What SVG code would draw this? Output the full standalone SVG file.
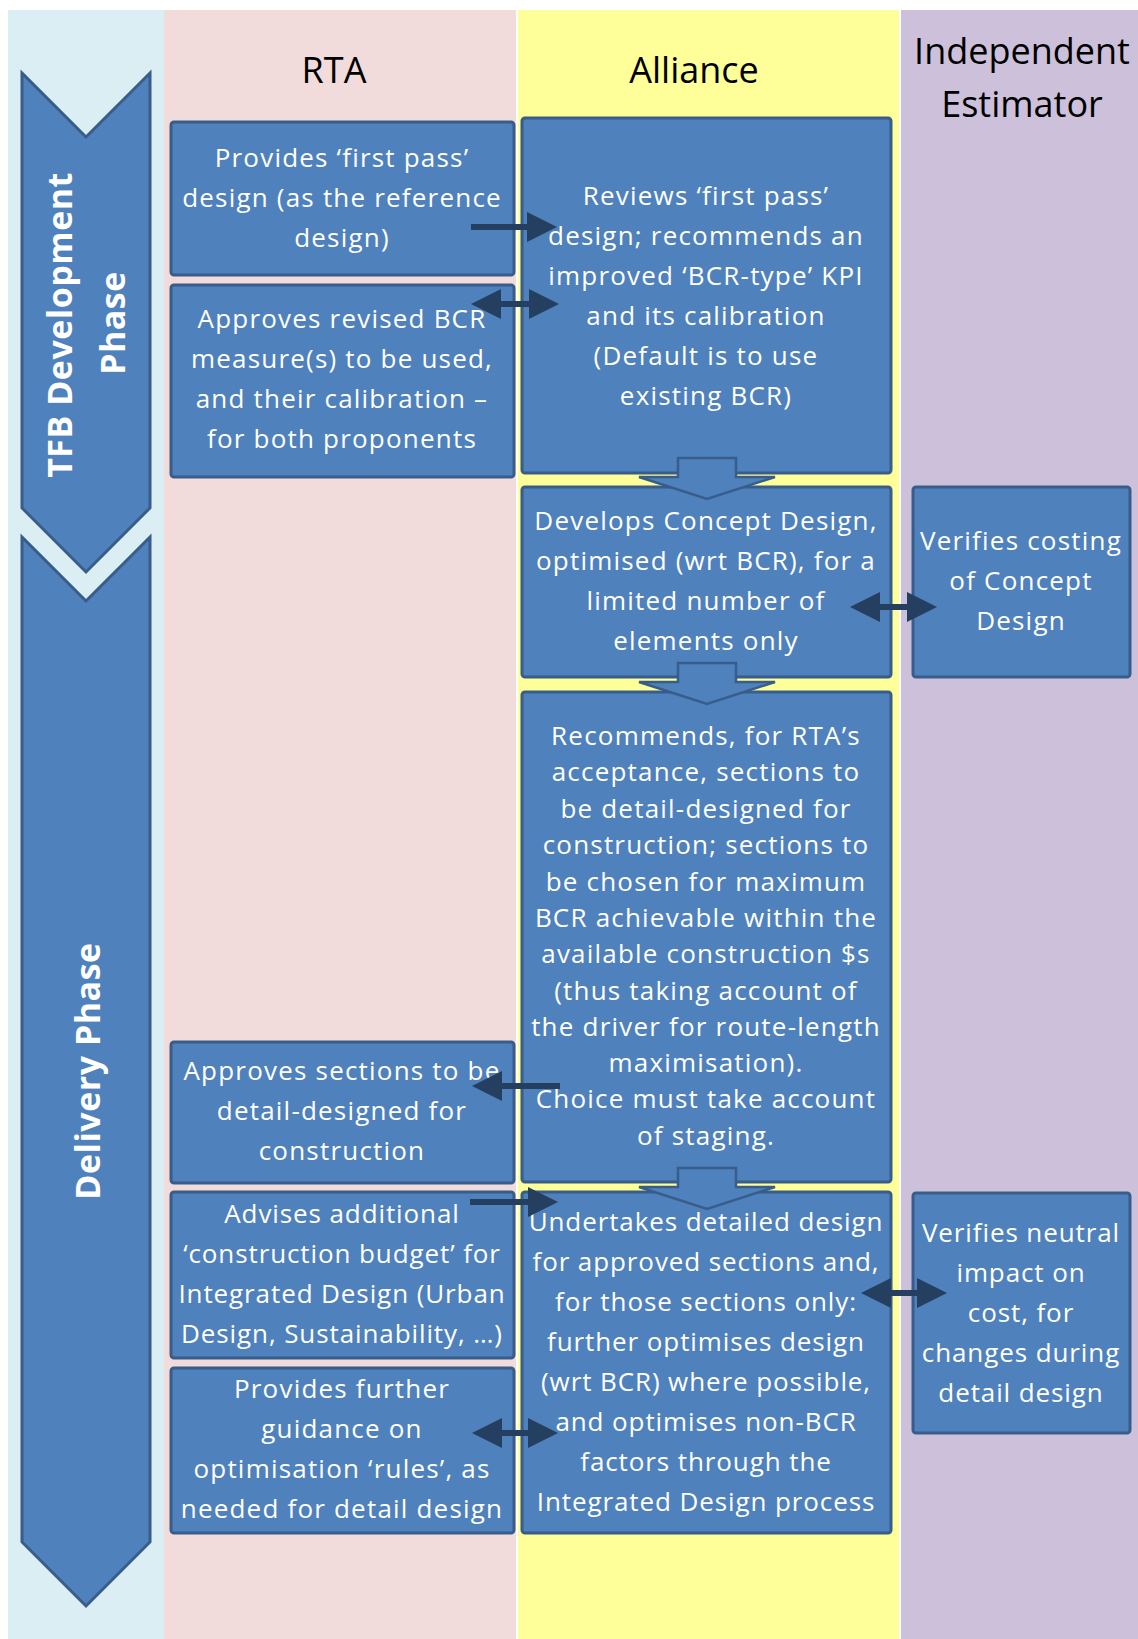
<svg xmlns="http://www.w3.org/2000/svg" xmlns:xlink="http://www.w3.org/1999/xlink" width="1138" height="1639" viewBox="0 0 1138 1639">
<style>
.lane-b{fill:#DAEEF3}.lane-p{fill:#F2DCDB}.lane-y{fill:#FFFF99}.lane-v{fill:#CCC0DA}
.box{fill:#4F81BD;stroke:#385D8A;stroke-width:3}
.chev{fill:#4F81BD;stroke:#385D8A;stroke-width:3;stroke-linejoin:miter}
.hdr{font-family:"Open Sans","Liberation Sans",sans-serif;font-size:36px;fill:#000;text-anchor:middle}
.t{font-family:"Open Sans","Liberation Sans",sans-serif;font-size:26px;fill:#fff;text-anchor:middle;letter-spacing:1.2px}
.tt{font-family:"Open Sans","Liberation Sans",sans-serif;font-size:26px;fill:#fff;text-anchor:middle;letter-spacing:0.9px}
.ph{font-family:"Open Sans","Liberation Sans",sans-serif;font-size:34px;font-weight:bold;fill:#fff;text-anchor:middle;letter-spacing:0.5px}
.ln{stroke:#243F60;stroke-width:6;fill:none}
.blk{fill:#4F81BD;stroke:#385D8A;stroke-width:2.5;stroke-linejoin:miter}
</style>
<defs>
<marker id="head" viewBox="0 0 30 30" refX="22" refY="15" markerWidth="30" markerHeight="30" markerUnits="userSpaceOnUse" orient="auto-start-reverse">
<path d="M0,0 L30,15 L0,30 Z" fill="#243F60"/>
</marker>
<path id="blkArrow" d="M-29,0 H29 V19 H68 L0,41 L-68,19 H-29 Z"/>
</defs>

<g id="lanes">
<rect x="0" y="0" width="1138" height="1639" fill="#fff"/>
<rect class="lane-b" x="8" y="10" width="156" height="1629"/>
<rect class="lane-p" x="164" y="10" width="352" height="1629"/>
<rect class="lane-y" x="518" y="10" width="381" height="1629"/>
<rect class="lane-v" x="901" y="10" width="237" height="1629"/>
<text class="hdr" x="334" y="83">RTA</text>
<text class="hdr" x="694" y="83">Alliance</text>
<text class="hdr" x="1022" y="64">Independent</text>
<text class="hdr" x="1022" y="117">Estimator</text>
</g>

<g id="phase-tfb">
<path class="chev" d="M22,73 L86,137 L150,73 L150,508 L86,572 L22,508 Z"/>
<text class="ph" transform="translate(72,325) rotate(-90)">TFB Development</text>
<text class="ph" transform="translate(125,323) rotate(-90)">Phase</text>
</g>

<g id="phase-delivery">
<path class="chev" d="M22,537 L86,601 L150,537 L150,1542 L86,1606 L22,1542 Z"/>
<text class="ph" transform="translate(100,1071) rotate(-90)">Delivery Phase</text>
</g>

<g id="rta-first-pass">
<rect class="box" x="171" y="122" width="343" height="153" rx="3"/>
<text class="t"><tspan x="342" y="167">Provides ‘first pass’</tspan><tspan x="342" y="207">design (as the reference</tspan><tspan x="342" y="247">design)</tspan></text>
</g>

<g id="rta-approves-bcr">
<rect class="box" x="171" y="285" width="343" height="192" rx="3"/>
<text class="t"><tspan x="342" y="328">Approves revised BCR</tspan><tspan x="342" y="368">measure(s) to be used,</tspan><tspan x="342" y="408">and their calibration –</tspan><tspan x="342" y="448">for both proponents</tspan></text>
</g>

<g id="alliance-reviews">
<rect class="box" x="522" y="118" width="369" height="355" rx="3"/>
<text class="t"><tspan x="706" y="205">Reviews ‘first pass’</tspan><tspan x="706" y="245">design; recommends an</tspan><tspan x="706" y="285">improved ‘BCR-type’ KPI</tspan><tspan x="706" y="325">and its calibration</tspan><tspan x="706" y="365">(Default is to use</tspan><tspan x="706" y="405">existing BCR)</tspan></text>
</g>

<g id="alliance-concept">
<rect class="box" x="522" y="487" width="369" height="190" rx="3"/>
<text class="t"><tspan x="706" y="530">Develops Concept Design,</tspan><tspan x="706" y="570">optimised (wrt BCR), for a</tspan><tspan x="706" y="610">limited number of</tspan><tspan x="706" y="650">elements only</tspan></text>
</g>

<g id="ie-verifies-costing">
<rect class="box" x="913" y="487" width="217" height="190" rx="3"/>
<text class="t"><tspan x="1021" y="550">Verifies costing</tspan><tspan x="1021" y="590">of Concept</tspan><tspan x="1021" y="630">Design</tspan></text>
</g>

<g id="alliance-recommends">
<rect class="box" x="522" y="692" width="369" height="490" rx="3"/>
<text class="t"><tspan x="706" y="745">Recommends, for RTA’s</tspan><tspan x="706" y="781">acceptance, sections to</tspan><tspan x="706" y="818">be detail-designed for</tspan><tspan x="706" y="854">construction; sections to</tspan><tspan x="706" y="891">be chosen for maximum</tspan><tspan x="706" y="927">BCR achievable within the</tspan><tspan x="706" y="963">available construction $s</tspan><tspan x="706" y="1000">(thus taking account of</tspan><tspan x="706" y="1036">the driver for route-length</tspan><tspan x="706" y="1072">maximisation).</tspan><tspan x="706" y="1108">Choice must take account</tspan><tspan x="706" y="1145">of staging.</tspan></text>
</g>

<g id="rta-approves-sections">
<rect class="box" x="171" y="1042" width="343" height="141" rx="3"/>
<text class="t"><tspan x="342" y="1080">Approves sections to be</tspan><tspan x="342" y="1120">detail-designed for</tspan><tspan x="342" y="1160">construction</tspan></text>
</g>

<g id="rta-advises-budget">
<rect class="box" x="171" y="1192" width="343" height="166" rx="3"/>
<text class="tt"><tspan x="342" y="1223">Advises additional</tspan><tspan x="342" y="1263">‘construction budget’ for</tspan><tspan x="342" y="1303">Integrated Design (Urban</tspan><tspan x="342" y="1343">Design, Sustainability, …)</tspan></text>
</g>

<g id="rta-guidance">
<rect class="box" x="171" y="1368" width="343" height="165" rx="3"/>
<text class="t"><tspan x="342" y="1398">Provides further</tspan><tspan x="342" y="1438">guidance on</tspan><tspan x="342" y="1478">optimisation ‘rules’, as</tspan><tspan x="342" y="1518">needed for detail design</tspan></text>
</g>

<g id="alliance-detailed-design">
<rect class="box" x="522" y="1192" width="369" height="341" rx="3"/>
<text class="tt"><tspan x="706" y="1231">Undertakes detailed design</tspan><tspan x="706" y="1271">for approved sections and,</tspan><tspan x="706" y="1311">for those sections only:</tspan><tspan x="706" y="1351">further optimises design</tspan><tspan x="706" y="1391">(wrt BCR) where possible,</tspan><tspan x="706" y="1431">and optimises non-BCR</tspan><tspan x="706" y="1471">factors through the</tspan><tspan x="706" y="1511">Integrated Design process</tspan></text>
</g>

<g id="ie-verifies-neutral">
<rect class="box" x="913" y="1193" width="217" height="240" rx="3"/>
<text class="tt"><tspan x="1021" y="1242">Verifies neutral</tspan><tspan x="1021" y="1282">impact on</tspan><tspan x="1021" y="1322">cost, for</tspan><tspan x="1021" y="1362">changes during</tspan><tspan x="1021" y="1402">detail design</tspan></text>
</g>

<g id="connectors">
<use href="#blkArrow" xlink:href="#blkArrow" class="blk" x="707" y="458"/>
<use href="#blkArrow" xlink:href="#blkArrow" class="blk" x="707" y="663"/>
<use href="#blkArrow" xlink:href="#blkArrow" class="blk" x="707" y="1168"/>
<line class="ln" x1="471" y1="227" x2="549" y2="227" marker-end="url(#head)"/>
<line class="ln" x1="479" y1="304" x2="551" y2="304" marker-start="url(#head)" marker-end="url(#head)"/>
<line class="ln" x1="858" y1="607" x2="929" y2="607" marker-start="url(#head)" marker-end="url(#head)"/>
<line class="ln" x1="560" y1="1086" x2="480" y2="1086" marker-end="url(#head)"/>
<line class="ln" x1="470" y1="1202" x2="550" y2="1202" marker-end="url(#head)"/>
<line class="ln" x1="480" y1="1433" x2="550" y2="1433" marker-start="url(#head)" marker-end="url(#head)"/>
<line class="ln" x1="869" y1="1293" x2="939" y2="1293" marker-start="url(#head)" marker-end="url(#head)"/>
</g>
</svg>
